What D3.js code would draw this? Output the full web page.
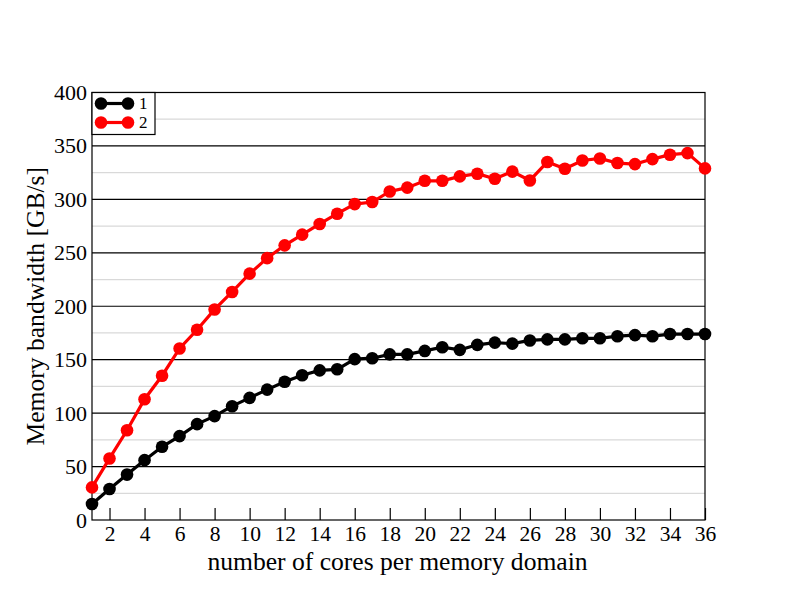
<!DOCTYPE html>
<html><head><meta charset="utf-8">
<script src="https://cdn.jsdelivr.net/npm/d3@7"></script>
<style>body{margin:0;background:#fff}svg{display:block}text{font-family:"Liberation Serif","Times New Roman",serif}</style>
</head><body><svg id="c" width="792" height="612"></svg>
<script>
const cores = d3.range(1, 37);
const series1 = [15,29,42.5,56,68.5,78.5,89.7,97.2,106.5,114.3,122,129.3,135.5,140,141,150.5,151.4,155,155,158.2,161.7,159.2,163.9,166,165,168,169,169,170,170,172,173,172,174,174,174];
const series2 = [30.5,57.6,84,113,135,160.5,178,197,213.4,230.5,245,257,267,277,286.6,295.6,297.5,307.4,311,317.4,317.4,321.5,324,319.3,326,317.7,335,328.6,336.4,338.3,334,333,337.7,341.8,343.3,329];
const seriesNames = ["1","2"];
const seriesColors = ["#000000","#ff0000"];
const xTicks = d3.range(2, 37, 2);
const yTicks = d3.range(0, 401, 50);
const yMinor = d3.range(25, 400, 50);

const svg = d3.select("#c");
const L = 92, R = 705, T = 92.5, B = 520;
const x = d3.scaleLinear().domain([1, 36]).range([L, R]);
const y = d3.scaleLinear().domain([0, 400]).range([B, T]);

// minor gridlines
svg.append("g").selectAll("line").data(yMinor).join("line")
  .attr("x1", L).attr("x2", R).attr("y1", d => y(d)).attr("y2", d => y(d))
  .attr("stroke", "#d9d9d9").attr("stroke-width", 1.2);
// major gridlines
svg.append("g").selectAll("line").data(yTicks.filter(d => d > 0 && d < 400)).join("line")
  .attr("x1", L).attr("x2", R).attr("y1", d => y(d)).attr("y2", d => y(d))
  .attr("stroke", "#000").attr("stroke-width", 1.2);

// frame
svg.append("rect").attr("x", L).attr("y", T).attr("width", R - L).attr("height", B - T)
  .attr("fill", "none").attr("stroke", "#000").attr("stroke-width", 1.2);

// x axis
const xAxis = d3.axisBottom(x).tickValues(xTicks).tickSizeInner(-12).tickSizeOuter(0).tickPadding(20);
const gx = svg.append("g").attr("transform", `translate(0,${B})`).call(xAxis);
gx.select(".domain").remove();
gx.selectAll(".tick line").attr("stroke", "#000").attr("stroke-width", 1.2);
gx.selectAll(".tick text").attr("font-size", 21.5).attr("fill", "#000")
  .attr("font-family", "Liberation Serif").attr("dy", "0.32em").attr("y", 14);

// y axis
const yAxis = d3.axisLeft(y).tickValues(yTicks).tickSize(0).tickPadding(5);
const gy = svg.append("g").attr("transform", `translate(${L},0)`).call(yAxis);
gy.select(".domain").remove();
gy.selectAll(".tick text").attr("font-size", 22).attr("fill", "#000").attr("font-family", "Liberation Serif");

// axis labels
svg.append("text").attr("x", (L + R) / 2 - 1).attr("y", 570).attr("text-anchor", "middle")
  .attr("font-size", 25.6).text("number of cores per memory domain");
svg.append("text").attr("transform", `translate(44,${(T + B) / 2}) rotate(-90)`).attr("text-anchor", "middle")
  .attr("font-size", 25.6).text("Memory bandwidth [GB/s]");

// series
const all = [series1, series2];
const line = d3.line().x((d, i) => x(cores[i])).y(d => y(d));
all.forEach((s, k) => {
  const g = svg.append("g");
  g.append("path").datum(s).attr("d", line).attr("fill", "none")
    .attr("stroke", seriesColors[k]).attr("stroke-width", 3.2);
  g.selectAll("circle").data(s).join("circle")
    .attr("cx", (d, i) => x(cores[i])).attr("cy", d => y(d)).attr("r", 6.3)
    .attr("fill", seriesColors[k]);
});

// legend
const lg = svg.append("g");
lg.append("rect").attr("x", L).attr("y", T).attr("width", 63).attr("height", 42)
  .attr("fill", "#fff").attr("stroke", "#000").attr("stroke-width", 1.2);
seriesNames.forEach((n, k) => {
  const yy = T + 11 + k * 19;
  lg.append("line").attr("x1", 101).attr("x2", 128).attr("y1", yy).attr("y2", yy)
    .attr("stroke", seriesColors[k]).attr("stroke-width", 3.2);
  lg.append("circle").attr("cx", 101).attr("cy", yy).attr("r", 6.3).attr("fill", seriesColors[k]);
  lg.append("circle").attr("cx", 128).attr("cy", yy).attr("r", 6.3).attr("fill", seriesColors[k]);
  lg.append("text").attr("x", 139).attr("y", yy).attr("dy", "0.35em").attr("font-size", 17).text(n);
});
</script></body></html>
